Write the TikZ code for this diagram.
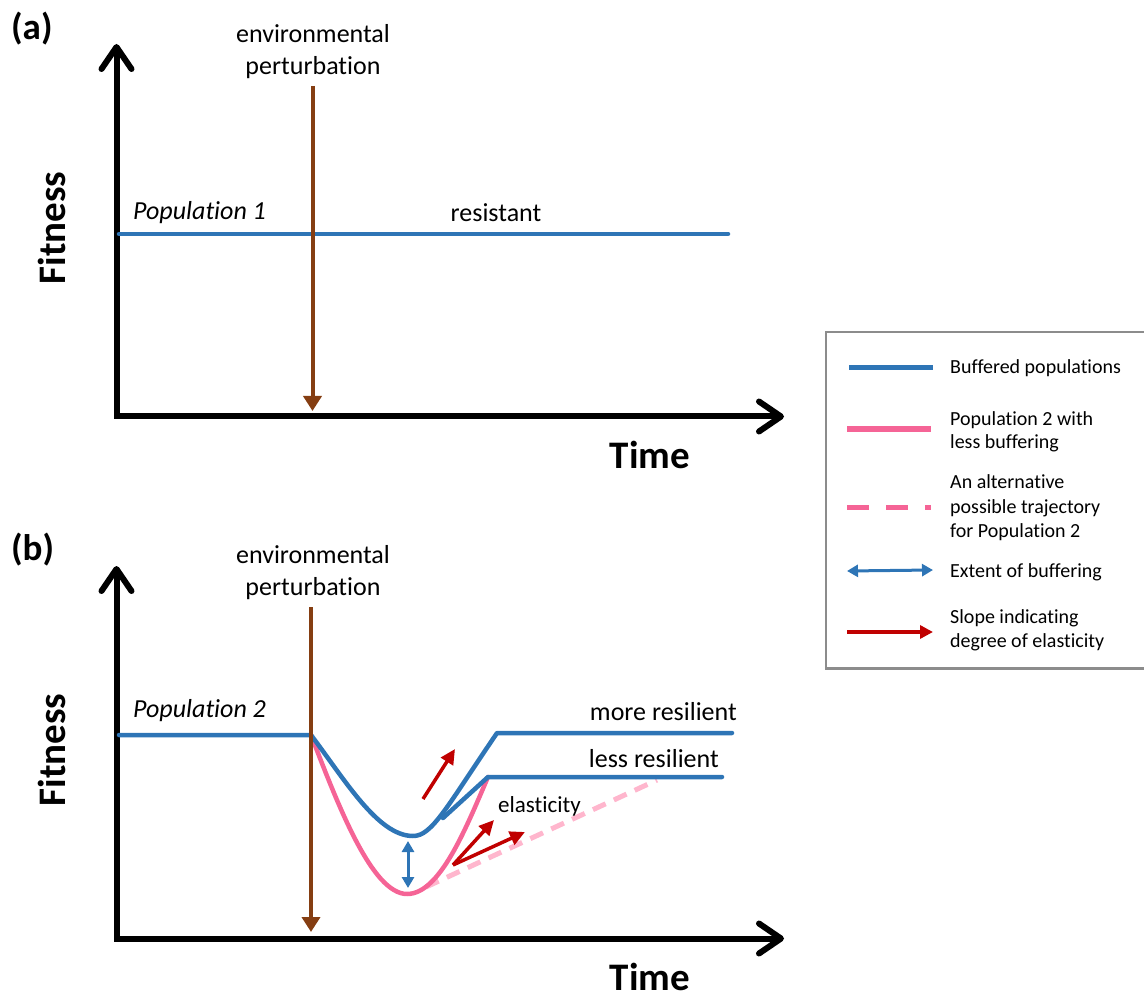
\documentclass[tikz,border=0pt]{standalone}
\usepackage{fontspec}
\setmainfont{Carlito}[Ligatures={NoCommon}]
\usetikzlibrary{arrows.meta}
\definecolor{cblue}{RGB}{46,117,182}
\definecolor{cpink}{RGB}{245,100,150}
\definecolor{clpink}{RGB}{255,182,205}
\definecolor{cred}{RGB}{192,0,0}
\definecolor{cbrown}{RGB}{133,62,18}
\definecolor{cgray}{RGB}{140,140,140}
\begin{document}
\begin{tikzpicture}[x=1pt,y=-1pt,
  axis/.style={line width=6pt,{Straight Barb[length=22pt,width=30pt,round]}-{Straight Barb[length=22pt,width=30pt,round]}},
  perturb/.style={cbrown,line width=4pt,-{Triangle[length=15pt,width=18pt]}},
  bufline/.style={cblue,line width=4.5pt,line cap=round,line join=round},
  pinkline/.style={cpink,line width=4.5pt,line cap=round,line join=round},
  altline/.style={clpink,line width=5pt,dash pattern=on 14pt off 9pt},
  bufarrow/.style={cblue,line width=3pt,{Triangle[length=11pt,width=12pt]}-{Triangle[length=11pt,width=12pt]}},
  slopearrow/.style={cred,line width=3.5pt,-{Triangle[length=15pt,width=14pt]}},
  lab/.style={inner sep=0pt,font=\fontsize{26}{31}\selectfont},
  poplab/.style={inner sep=0pt,font=\fontsize{26}{31}\selectfont\itshape},
  ax/.style={inner sep=0pt,font=\fontsize{39}{46}\selectfont\bfseries},
  panel/.style={inner sep=0pt,font=\fontsize{37}{44}\selectfont\bfseries},
  leg/.style={inner sep=0pt,anchor=base west,font=\fontsize{20}{24}\selectfont},
  legbox/.style={draw=cgray,line width=2.5pt}
]
\useasboundingbox (0,0) rectangle (1144,1000);

% ---------------- panel (a) ----------------
\node[panel,anchor=base west] (pa) at (11,40) {(a)};
\coordinate (ayA) at (116.5,44);
\coordinate (oA) at (116.5,416.5);
\coordinate (axA) at (784,416.5);
\draw[axis] (ayA) -- (oA) -- (axA);
\node[ax,rotate=90] (fitA) at (52,228) {Fitness};
\node[ax,anchor=base] (timeA) at (650,468) {Time};
\coordinate (p1s) at (119,234);
\coordinate (p1e) at (728,234);
\draw[bufline] (p1s) -- (p1e);
\node[poplab,anchor=base west] (pop1) at (133,220) {Population 1};
\node[lab,anchor=base] (res) at (496,222) {resistant};
\node[lab,anchor=base] (envA1) at (313,43) {environmental};
\node[lab,anchor=base] (envA2) at (313,75) {perturbation};
\coordinate (brAs) at (312.5,86);
\coordinate (brAe) at (312.5,411);
\draw[perturb] (brAs) -- (brAe);

% ---------------- panel (b) ----------------
\node[panel,anchor=base west] (pb) at (11,560) {(b)};
\coordinate (ayB) at (116.5,566);
\coordinate (oB) at (116.5,938.5);
\coordinate (axB) at (784,938.5);
\draw[axis] (ayB) -- (oB) -- (axB);
\node[ax,rotate=90] (fitB) at (52,750) {Fitness};
\node[ax,anchor=base] (timeB) at (650,990) {Time};
\node[poplab,anchor=base west] (pop2) at (133,717) {Population 2};

\coordinate (b0) at (119,735);
\coordinate (bp) at (311,735);
\coordinate (bmin) at (413,836);
\coordinate (bk) at (497,733);
\coordinate (bend) at (732,733);
\coordinate (lr0) at (443,818);
\coordinate (lrk) at (488,777);
\coordinate (lrend) at (722,777);
\coordinate (pmin) at (407,894);
\coordinate (alt0) at (426,887);
\coordinate (alt1) at (657,780);

% alternative trajectory
\draw[altline] (alt0) -- (alt1);
% population 2 with less buffering
\draw[pinkline] (bp) .. controls (338,805) and (372,894) .. (pmin)
                     .. controls (440,894) and (466,828) .. (lrk);
% buffered populations
\draw[bufline] (b0) -- (bp) .. controls (345,780) and (378,836) .. (bmin)
               .. controls (432,836) and (446,808) .. (bk) -- (bend);
\draw[bufline] (lr0) -- (lrk) -- (lrend);

\node[lab,anchor=base east] (more) at (737,720) {more resilient};
\node[lab,anchor=base east] (less) at (719,767) {less resilient};
\node[inner sep=0pt,anchor=base west,font=\fontsize{23}{28}\selectfont] (elas) at (498,812) {elasticity};

% extent of buffering
\coordinate (eb0) at (408,841);
\coordinate (eb1) at (408,888);
\draw[bufarrow] (eb0) -- (eb1);
% slopes
\coordinate (s1a) at (423,799);
\coordinate (s1b) at (455,749);
\coordinate (s2a) at (453,865);
\coordinate (s2b) at (494,820);
\coordinate (s3b) at (525,832);
\draw[slopearrow] (s1a) -- (s1b);
\draw[slopearrow] (s2a) -- (s2b);
\draw[slopearrow] (s2a) -- (s3b);

\node[lab,anchor=base] (envB1) at (313,563) {environmental};
\node[lab,anchor=base] (envB2) at (313,595) {perturbation};
\coordinate (brBs) at (311,607);
\coordinate (brBe) at (311,932);
\draw[perturb] (brBs) -- (brBe);

% ---------------- legend ----------------
\coordinate (lg0) at (826,332);
\coordinate (lg1) at (1146,668.5);
\draw[legbox] (lg0) rectangle (lg1);
\coordinate (l1a) at (849,368); \coordinate (l1b) at (933,368);
\draw[cblue,line width=5pt] (l1a) -- (l1b);
\node[leg] (t1) at (950,374) {Buffered populations};
\coordinate (l2a) at (847,429); \coordinate (l2b) at (931,429);
\draw[cpink,line width=5pt] (l2a) -- (l2b);
\node[leg] (t2a) at (950,425) {Population 2 with};
\node[leg] (t2b) at (950,449) {less buffering};
\coordinate (l3a) at (847,507); \coordinate (l3b) at (931,507);
\draw[cpink,line width=5pt,dash pattern=on 22pt off 17pt] (l3a) -- (l3b);
\node[leg] (t3a) at (950,488) {An alternative};
\node[leg] (t3b) at (950,513) {possible trajectory};
\node[leg] (t3c) at (950,537) {for Population 2};
\coordinate (l4a) at (847,571); \coordinate (l4b) at (933,570);
\draw[cblue,line width=3pt,{Triangle[length=11pt,width=12pt]}-{Triangle[length=11pt,width=12pt]}] (l4a) -- (l4b);
\node[leg] (t4) at (950,577) {Extent of buffering};
\coordinate (l5a) at (847,632); \coordinate (l5b) at (933,632);
\draw[cred,line width=3.5pt,-{Triangle[length=13pt,width=13pt]}] (l5a) -- (l5b);
\node[leg] (t5a) at (950,623) {Slope indicating};
\node[leg] (t5b) at (950,647) {degree of elasticity};
\end{tikzpicture}
\end{document}
